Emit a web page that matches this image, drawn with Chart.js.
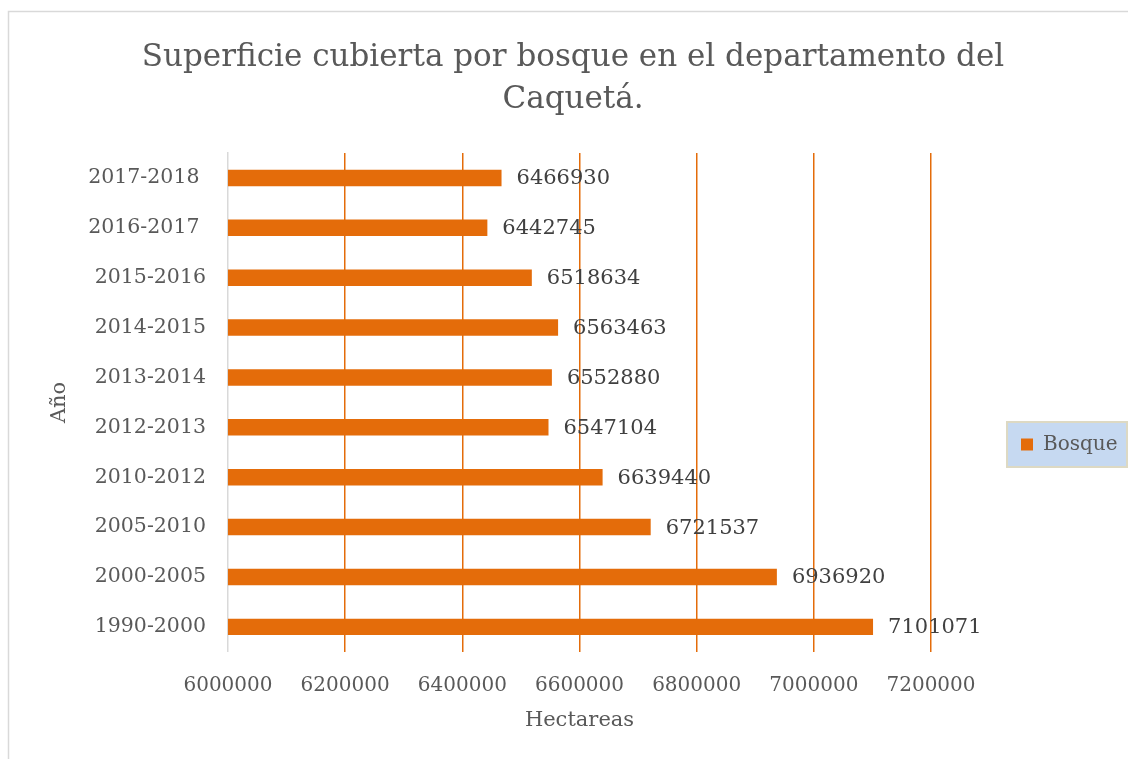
<!DOCTYPE html>
<html>
<head>
<meta charset="utf-8">
<script src="https://cdn.jsdelivr.net/npm/chart.js@4"></script>
<style>
    html, body { margin: 0; padding: 0; background: #ffffff; }
    #wrap { position: relative; width: 1128px; height: 759px; }
</style>
</head>
<body>
<div id="wrap"><canvas id="forest-chart" width="1128" height="759"></canvas></div>
<script>
// Chart.js default configuration
Chart.defaults.font.family = "'DejaVu Serif', 'Liberation Serif', serif";
Chart.defaults.font.size = 20;
Chart.defaults.color = '#595959';

const COLORS = {
    bar: '#e46c0a',
    grid: '#e46c0a',
    axis: '#d9d9d9',
    label: '#404040',
    legendFill: '#c6d9f1',
    legendBorder: '#ddd9c3',
    frame: '#d9d9d9',
};

// Data (chronological order, drawn bottom to top)
const PERIODS = [
    '1990-2000',
    '2000-2005',
    '2005-2010',
    '2010-2012',
    '2012-2013',
    '2013-2014',
    '2014-2015',
    '2015-2016',
    '2016-2017 ',
    '2017-2018 ',
];
const FOREST_HA = [7101071, 6936920, 6721537, 6639440, 6547104, 6552880, 6563463, 6518634, 6442745, 6466930];
const X_MIN = 6000000;
const X_MAX = 7200000;
const X_STEP = 200000;

const LEGEND_PAD = 90;

// frame round the chart + legend background
const backgroundPlugin = {
    id: 'background',
    afterLayout(chart) {
        // Excel puts the legend a bit lower than the middle
        const lg = chart.legend;
        if (lg) {
            lg.top += 78;
            lg.bottom += 78;
        }
    },
    beforeDraw(chart) {
        const ctx = chart.ctx;
        ctx.save();
        ctx.strokeStyle = COLORS.frame;
        ctx.lineWidth = 1.5;
        ctx.strokeRect(8.5, 11.5, 1300, 900);

        const lg = chart.legend;
        if (lg) {
            const x = lg.left + LEGEND_PAD - 14;
            const y = (lg.top + lg.bottom) / 2 - 22.5;
            ctx.fillStyle = COLORS.legendFill;
            ctx.fillRect(x, y, 120, 45);
            ctx.strokeStyle = COLORS.legendBorder;
            ctx.lineWidth = 2;
            ctx.strokeRect(x, y, 120, 45);
        }
        ctx.restore();
    }
};

// value labels at the end of each bar
const valueLabelPlugin = {
    id: 'valueLabels',
    afterDatasetsDraw(chart) {
        const ctx = chart.ctx;
        const meta = chart.getDatasetMeta(0);
        ctx.save();
        ctx.font = "21px 'DejaVu Serif', serif";
        ctx.fillStyle = COLORS.label;
        ctx.textAlign = 'left';
        ctx.textBaseline = 'middle';
        meta.data.forEach((bar, i) => {
            ctx.fillText(String(FOREST_HA[i]), bar.x + 15, bar.y + 1);
        });
        ctx.restore();
    }
};

const ctx = document.getElementById('forest-chart').getContext('2d');
new Chart(ctx, {
    type: 'bar',
    data: {
        labels: PERIODS,
        datasets: [{
            label: 'Bosque',
            data: FOREST_HA,
            backgroundColor: COLORS.bar,
            borderWidth: 0,
            barPercentage: 0.33,
            categoryPercentage: 1.0,
        }]
    },
    options: {
        indexAxis: 'y',
        responsive: false,
        animation: false,
        layout: {
            padding: { left: 20, right: 2, top: 0, bottom: 26 }
        },
        plugins: {
            title: {
                display: true,
                text: ['Superficie cubierta por bosque en el departamento del', 'Caquetá.'],
                color: '#595959',
                font: { size: 31, weight: 'normal', lineHeight: 1.355 },
                padding: { top: 37, bottom: 32 }
            },
            legend: {
                position: 'right',
                maxWidth: 195,
                labels: {
                    boxWidth: 12,
                    boxHeight: 12,
                    padding: LEGEND_PAD,
                    color: '#595959',
                    font: { size: 20 }
                }
            },
            tooltip: { enabled: false }
        },
        scales: {
            x: {
                min: X_MIN,
                max: X_MAX,
                ticks: {
                    stepSize: X_STEP,
                    padding: 22,
                    maxRotation: 0,
                    font: { size: 20 },
                    callback: v => String(v)
                },
                grid: {
                    drawTicks: false,
                    lineWidth: 1.5,
                    color: c => c.index === 0 ? 'rgba(0,0,0,0)' : COLORS.grid
                },
                border: { display: false },
                title: {
                    display: true,
                    text: 'Hectareas',
                    color: '#595959',
                    font: { size: 21 },
                    padding: { top: -12, bottom: 0 }
                }
            },
            y: {
                reverse: true,
                ticks: {
                    padding: 22,
                    font: { size: 20.5 },
                    color: '#595959'
                },
                grid: { display: false, drawTicks: false },
                border: { display: true, color: COLORS.axis, width: 1.5 },
                title: {
                    display: true,
                    text: 'Año',
                    color: '#595959',
                    font: { size: 21 },
                    padding: { top: 27, bottom: -6 }
                }
            }
        }
    },
    plugins: [backgroundPlugin, valueLabelPlugin]
});
</script>
</body>
</html>
